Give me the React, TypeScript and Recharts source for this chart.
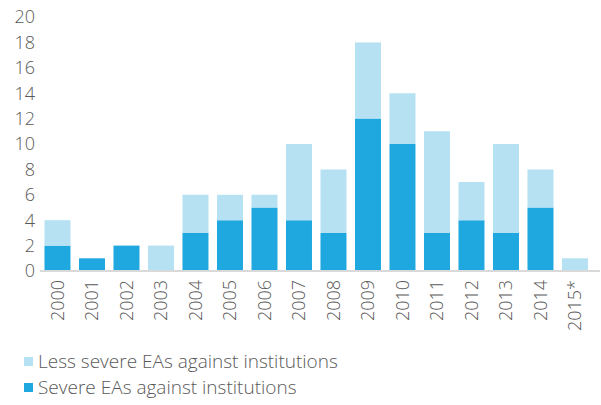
import React from 'react';
import { BarChart, Bar, XAxis, YAxis } from 'recharts';

const years = ['2000', '2001', '2002', '2003', '2004', '2005', '2006', '2007', '2008', '2009', '2010', '2011', '2012', '2013', '2014', '2015*'];
const severe = [2, 1, 2, 0, 3, 4, 5, 4, 3, 12, 10, 3, 4, 3, 5, 0];
const lessSevere = [2, 0, 0, 2, 3, 2, 1, 6, 5, 6, 4, 8, 3, 7, 3, 1];
const yTicks = [0, 2, 4, 6, 8, 10, 12, 14, 16, 18, 20];

const data = years.map((year, i) => ({ year, severe: severe[i], lessSevere: lessSevere[i] }));

const DARK = '#1fa8e0';
const LIGHT = '#b5e1f3';
const TEXT = '#595959';
const FONT = '"Open Sans", sans-serif';

const YearTick = (props: any) => {
  const { x, y, payload } = props;
  return (
    <text
      x={x}
      y={y}
      transform={`rotate(-90, ${x}, ${y})`}
      textAnchor="end"
      dy="0.35em"
      fill={TEXT}
      fontSize={18}
      fontWeight={300}
      fontFamily={FONT}
    >
      {payload.value}
    </text>
  );
};

const LegendRow = ({ color, label }: { color: string; label: string }) => (
  <div style={{ display: 'flex', alignItems: 'center', height: 26 }}>
    <div style={{ width: 9, height: 9, background: color, marginRight: 5 }} />
    <span>{label}</span>
  </div>
);

const App: React.FC = () => {
  return (
    <div style={{ position: 'absolute', left: 0, top: 0, width: 601, height: 405, background: '#fff', fontFamily: FONT, color: TEXT, fontSize: 19, fontWeight: 300 }}>
      <BarChart width={601} height={340} data={data} margin={{ top: 17, right: 1, bottom: 0, left: 0 }} barCategoryGap="13%">
        <XAxis
          dataKey="year"
          height={69}
          tick={<YearTick />}
          tickLine={false}
          tickSize={0}
          tickMargin={9}
          axisLine={{ stroke: '#d9d9d9', strokeWidth: 2 }}
          padding={{ left: 0, right: 8 }}
          interval={0}
        />
        <YAxis
          width={40}
          domain={[0, 20]}
          ticks={yTicks}
          interval={0}
          tickLine={false}
          axisLine={false}
          tickSize={0}
          tickMargin={5}
          tick={{ fill: TEXT, fontSize: 18, fontWeight: 300, fontFamily: FONT }}
        />
        <Bar dataKey="severe" stackId="a" fill={DARK} isAnimationActive={false} />
        <Bar dataKey="lessSevere" stackId="a" fill={LIGHT} isAnimationActive={false} />
      </BarChart>
      <div style={{ position: 'absolute', left: 24, top: 348 }}>
        <LegendRow color={LIGHT} label="Less severe EAs against institutions" />
        <LegendRow color={DARK} label="Severe EAs against institutions" />
      </div>
    </div>
  );
};

export default App;
